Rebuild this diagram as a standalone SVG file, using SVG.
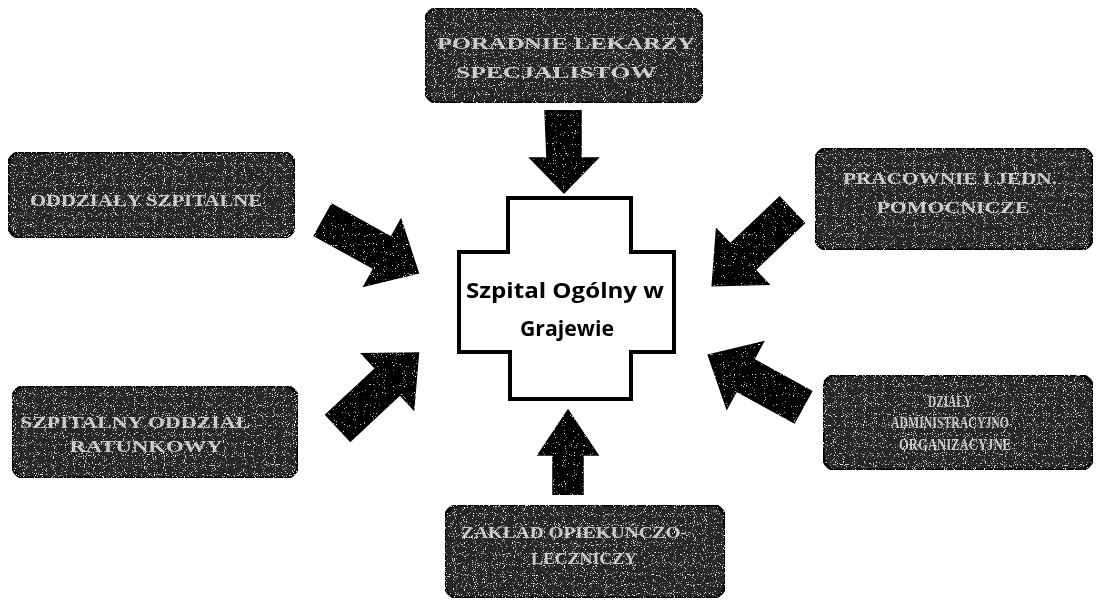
<svg xmlns="http://www.w3.org/2000/svg" width="1096" height="606" viewBox="0 0 1096 606">
<defs>
  <filter id="grain" x="0" y="0" width="100%" height="100%">
    <feTurbulence type="fractalNoise" baseFrequency="0.9" numOctaves="1" seed="3" result="n"/>
    <feColorMatrix in="n" type="matrix" values="0 0 0 0 1  0 0 0 0 1  0 0 0 0 1  0 0 0 9 -5.6" result="s"/>
    <feComposite in="s" in2="SourceAlpha" operator="in" result="sp"/>
    <feMerge><feMergeNode in="SourceGraphic"/><feMergeNode in="sp"/></feMerge>
  </filter>
  <filter id="grainLight" x="0" y="0" width="100%" height="100%">
    <feTurbulence type="fractalNoise" baseFrequency="0.9" numOctaves="1" seed="7" result="n"/>
    <feColorMatrix in="n" type="matrix" values="0 0 0 0 1  0 0 0 0 1  0 0 0 0 1  0 0 0 12 -8.2" result="s"/>
    <feComposite in="s" in2="SourceAlpha" operator="in" result="sp"/>
    <feMerge><feMergeNode in="SourceGraphic"/><feMergeNode in="sp"/></feMerge>
  </filter>
</defs>
<style>
  .box { fill: #262626; stroke: #000; stroke-width: 3; }
  .btxt { font-family: "Liberation Serif", serif; font-weight: bold; font-size: 17px; fill: #c8c8c8; text-anchor: middle; }
  .arrow { fill: #000; stroke: #000; stroke-width: 1.5; }
  .cross { fill: #fff; stroke: #000; stroke-width: 4; stroke-linejoin: miter; }
  .ctxt { font-family: "Open Sans", "Liberation Sans", sans-serif; font-weight: bold; font-size: 22px; fill: #000; text-anchor: middle; }
</style>
<rect width="1096" height="606" fill="#fff"/>

<g id="connectors" filter="url(#grainLight)">
  <path class="arrow" d="M545,110 L581,110 L581,158 L598,158 L564,193 L530,158 L547,158 Z"/>
  <path class="arrow" d="M553,495 L583,495 L583,455 L598,455 L568,410 L538,455 L553,455 Z"/>
  <path class="arrow" transform="translate(323,220) rotate(29)" d="M0,-18 L68,-18 L68,-38 L109,0 L68,38 L68,18 L0,18 Z"/>
  <path class="arrow" transform="translate(338,428) rotate(-43)" d="M0,-18 L68,-18 L68,-38 L110,0 L68,38 L68,18 L0,18 Z"/>
  <path class="arrow" transform="translate(792,210) rotate(136.5)" d="M0,-18 L68,-18 L68,-38 L110,0 L68,38 L68,18 L0,18 Z"/>
  <path class="arrow" transform="translate(803,407) rotate(208.7)" d="M0,-18 L66,-18 L66,-38 L108,0 L66,38 L66,18 L0,18 Z"/>
</g>

<g id="center">
  <path class="cross" d="M508,198 L631,198 L631,252 L674,252 L674,352 L631,352 L631,399 L510,399 L510,352 L459,352 L459,252 L508,252 Z"/>
  <text class="ctxt" x="565" y="298" textLength="198" lengthAdjust="spacingAndGlyphs">Szpital Ogólny w</text>
  <text class="ctxt" x="567" y="336" textLength="94" lengthAdjust="spacingAndGlyphs">Grajewie</text>
</g>

<g id="node-top" filter="url(#grain)">
  <rect class="box" x="425" y="8" width="278" height="95" rx="14"/>
  <text class="btxt" x="566" y="49" textLength="258" lengthAdjust="spacingAndGlyphs">PORADNIE LEKARZY</text>
  <text class="btxt" x="556" y="78" textLength="200" lengthAdjust="spacingAndGlyphs">SPECJALISTÓW</text>
</g>

<g id="node-left-top" filter="url(#grain)">
  <rect class="box" x="8" y="152" width="287" height="86" rx="14"/>
  <text class="btxt" x="146" y="206" font-size="19" textLength="232" lengthAdjust="spacingAndGlyphs">ODDZIAŁY SZPITALNE</text>
</g>

<g id="node-right-top" filter="url(#grain)">
  <rect class="box" x="815" y="148" width="278" height="102" rx="14"/>
  <text class="btxt" x="950" y="184" font-size="19" textLength="214" lengthAdjust="spacingAndGlyphs">PRACOWNIE I JEDN.</text>
  <text class="btxt" x="953" y="213" font-size="19" textLength="153" lengthAdjust="spacingAndGlyphs">POMOCNICZE</text>
</g>

<g id="node-left-bottom" filter="url(#grain)">
  <rect class="box" x="12" y="386" width="286" height="92" rx="14"/>
  <text class="btxt" x="135" y="428" font-size="15" textLength="230" lengthAdjust="spacingAndGlyphs">SZPITALNY ODDZIAŁ</text>
  <text class="btxt" x="146" y="452" font-size="15" textLength="153" lengthAdjust="spacingAndGlyphs">RATUNKOWY</text>
</g>

<g id="node-right-bottom" filter="url(#grain)">
  <rect class="box" x="823" y="375" width="270" height="95" rx="14"/>
  <text class="btxt" x="950" y="407" font-size="15" textLength="44" lengthAdjust="spacingAndGlyphs">DZIAŁY</text>
  <text class="btxt" x="950" y="428" font-size="15" textLength="118" lengthAdjust="spacingAndGlyphs">ADMINISTRACYJNO</text>
  <text class="btxt" x="955" y="450" font-size="15" textLength="112" lengthAdjust="spacingAndGlyphs">ORGANIZACYJNE</text>
</g>

<g id="node-bottom" filter="url(#grain)">
  <rect class="box" x="445" y="505" width="280" height="93" rx="14"/>
  <text class="btxt" x="574" y="538" font-size="15" textLength="226" lengthAdjust="spacingAndGlyphs">ZAKŁAD OPIEKUŃCZO-</text>
  <text class="btxt" x="584" y="564" font-size="13" textLength="106" lengthAdjust="spacingAndGlyphs">LECZNICZY</text>
</g>
</svg>
